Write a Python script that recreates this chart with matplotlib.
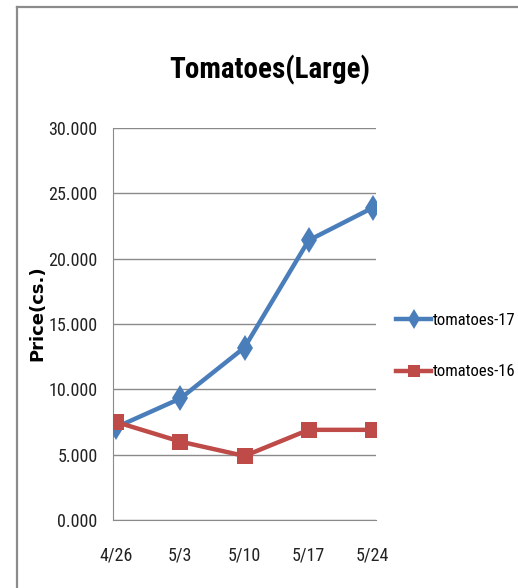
import matplotlib
matplotlib.use('Agg')
import matplotlib.pyplot as plt
from matplotlib.lines import Line2D
from matplotlib import font_manager

# ========== data ==========
dates = ['4/26', '5/3', '5/10', '5/17', '5/24']
tomatoes_17 = [7.1, 9.3, 13.2, 21.4, 23.9]
tomatoes_16 = [7.5, 6.0, 4.9, 6.9, 6.9]
y_ticks = [0, 5, 10, 15, 20, 25, 30]

blue = '#4A7EBB'
red = '#BE4B48'

# narrow font if one is installed
installed = {f.name for f in font_manager.fontManager.ttflist}
narrow_name = 'DejaVu Sans'
for cand in ['Liberation Sans Narrow', 'Roboto Condensed', 'Open Sans Condensed', 'Noto Sans Condensed']:
    if cand in installed:
        narrow_name = cand
        break
narrow = {'family': [narrow_name, 'DejaVu Sans'], 'stretch': 'condensed'}

fig = plt.figure(figsize=(5.18, 5.88), dpi=100)
fig.patch.set_facecolor('white')

# gray outer frame (top + left)
fig.add_artist(Line2D([17/518, 17/518], [0, 1 - 7/588], transform=fig.transFigure,
                      color='#8c8c8c', lw=1.6))
fig.add_artist(Line2D([17/518, 1], [1 - 7/588, 1 - 7/588], transform=fig.transFigure,
                      color='#8c8c8c', lw=1.6))

ax = fig.add_axes([113/518, 1 - 520/588, (376 - 113)/518, (520 - 128)/588])
x = list(range(len(dates)))

ax.plot(x, tomatoes_17, color=blue, lw=3.2, marker='d', markersize=13,
        markeredgewidth=0, label='tomatoes-17', zorder=3)
ax.plot(x, tomatoes_16, color=red, lw=3.2, marker='s', markersize=11,
        markeredgewidth=0, label='tomatoes-16', zorder=4)

ax.set_xlim(-0.05, 4.05)
ax.set_ylim(0, 30)
ax.set_yticks(y_ticks)
ax.set_yticklabels([f'{v:.3f}' for v in y_ticks], fontsize=13, color='#222222', **narrow)
ax.set_xticks(x)
ax.set_xticklabels(dates, fontsize=13, color='#222222', **narrow)
ax.tick_params(axis='both', length=0)
ax.tick_params(axis='y', pad=11)
ax.tick_params(axis='x', pad=19)

ax.grid(axis='y', color='#8a8a8a', lw=1)
ax.set_axisbelow(True)
for s in ['top', 'right']:
    ax.spines[s].set_visible(False)
ax.spines['left'].set_color('#8a8a8a')
ax.spines['bottom'].set_color('#8a8a8a')

ax.set_ylabel('Price(cs.)', fontsize=13, fontweight='bold')
ax.yaxis.set_label_coords((46 - 113)/263, (520 - 313)/392)

fig.text(270/518, 1 - 70/588, 'Tomatoes(Large)', fontsize=21,
         fontweight='bold', ha='center', va='center', **narrow)

fig.legend(loc='center left', bbox_to_anchor=(396/518, 1 - 346/588),
           frameon=False, prop={'size': 12, **narrow}, markerscale=0.75,
           borderpad=0, borderaxespad=0,
           handlelength=2.1, handletextpad=0.1, labelspacing=2.2)

fig.savefig('out.png', dpi=100)
